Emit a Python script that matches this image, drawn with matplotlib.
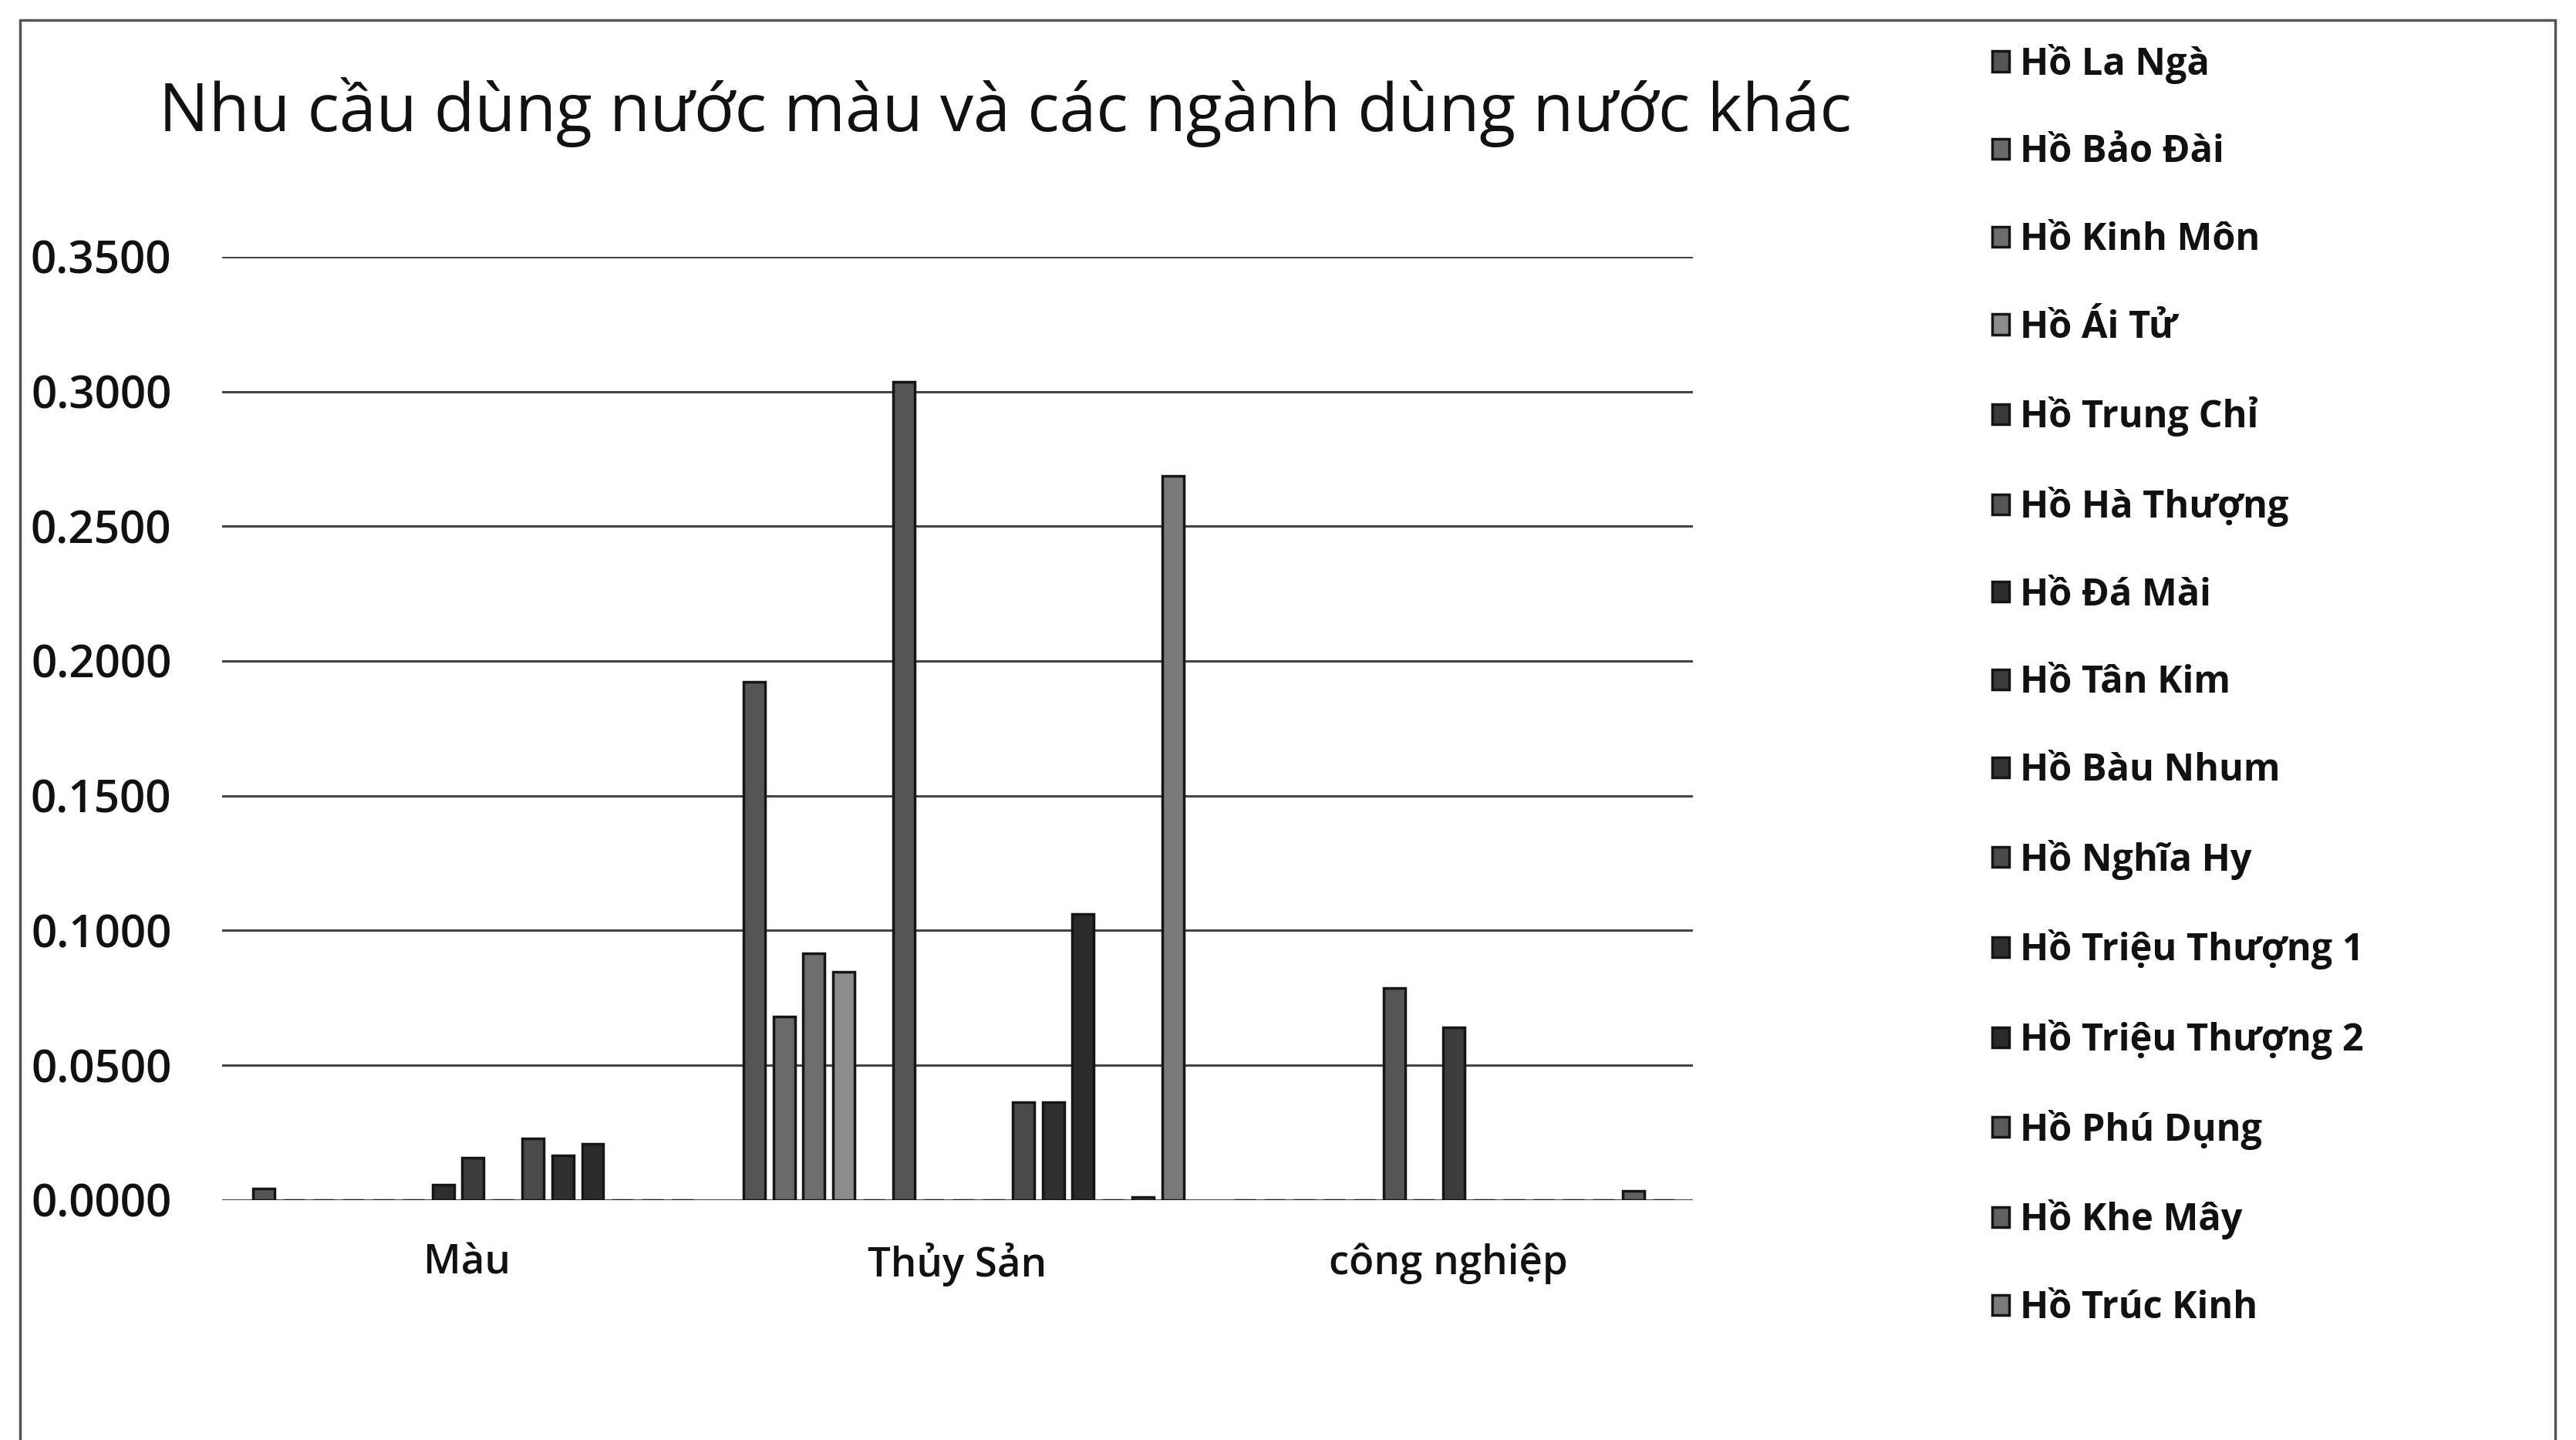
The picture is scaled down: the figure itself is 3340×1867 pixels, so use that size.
import numpy as np
import matplotlib
matplotlib.use("Agg")
from matplotlib import pyplot as plt
from matplotlib.patches import Rectangle

plt.rcParams['font.family'] = ['Open Sans', 'DejaVu Sans']

categories = ['Màu', 'Thủy Sản', 'công nghiệp']

lakes = ['Hồ La Ngà', 'Hồ Bảo Đài', 'Hồ Kinh Môn', 'Hồ Ái Tử', 'Hồ Trung Chỉ',
         'Hồ Hà Thượng', 'Hồ Đá Mài', 'Hồ Tân Kim', 'Hồ Bàu Nhum', 'Hồ Nghĩa Hy',
         'Hồ Triệu Thượng 1', 'Hồ Triệu Thượng 2', 'Hồ Phú Dụng', 'Hồ Khe Mây',
         'Hồ Trúc Kinh']

# values per lake: [Màu, Thủy Sản, công nghiệp]
la_nga = [0.0041, 0.1923, 0.0]
bao_dai = [0.0, 0.0680, 0.0]
kinh_mon = [0.0, 0.0915, 0.0]
ai_tu = [0.0, 0.0846, 0.0]
trung_chi = [0.0, 0.0, 0.0]
ha_thuong = [0.0, 0.3035, 0.0786]
da_mai = [0.0056, 0.0, 0.0]
tan_kim = [0.0156, 0.0, 0.0640]
bau_nhum = [0.0, 0.0, 0.0]
nghia_hy = [0.0228, 0.0364, 0.0]
trieu_thuong_1 = [0.0165, 0.0364, 0.0]
trieu_thuong_2 = [0.0209, 0.1060, 0.0]
phu_dung = [0.0, 0.0, 0.0]
khe_may = [0.0, 0.0010, 0.0033]
truc_kinh = [0.0, 0.2688, 0.0]

values = [la_nga, bao_dai, kinh_mon, ai_tu, trung_chi, ha_thuong, da_mai, tan_kim,
          bau_nhum, nghia_hy, trieu_thuong_1, trieu_thuong_2, phu_dung, khe_may,
          truc_kinh]

yticks = [0.0, 0.05, 0.10, 0.15, 0.20, 0.25, 0.30, 0.35]

# scanned greys
colors = ['#555555', '#6a6a6a', '#6e6e6e', '#8c8c8c', '#3a3a3a', '#555555',
          '#2e2e2e', '#3c3c3c', '#333333', '#4a4a4a', '#2f2f2f', '#2a2a2a',
          '#5a5a5a', '#606060', '#7a7a7a']

fig = plt.figure(figsize=(33.41, 18.67), dpi=100)
ax = fig.add_axes([0.0861, 0.1667, 0.571, 0.655])

x = np.arange(len(categories))
slot = 1 / 16.4
handles = []
for i, (name, vals) in enumerate(zip(lakes, values)):
    b = ax.bar(x + (i - 6.8) * slot, vals, width=slot * 0.72, color=colors[i],
               edgecolor='#151515', linewidth=2.5, label=name, zorder=3)
    handles.append(b)

ax.set_xlim(-0.5, 2.5)
ax.set_ylim(0, 0.35)
ax.set_yticks(yticks)
ax.set_yticklabels(['{:.4f}'.format(v) for v in yticks])
ax.set_xticks(x)
ax.set_xticklabels(categories)
ax.tick_params(axis='y', length=0, pad=47, labelsize=42, labelcolor='#111111')
ax.tick_params(axis='x', length=0, pad=40, labelsize=38, labelcolor='#111111')
for lab in ax.get_yticklabels():
    lab.set_fontweight('semibold')
for lab in ax.get_xticklabels():
    lab.set_fontweight('semibold')
ax.grid(axis='y', color='#444444', linewidth=2.2, zorder=0)
for s in ax.spines.values():
    s.set_visible(False)

fig.text(0.39, 0.922, 'Nhu cầu dùng nước màu và các ngành dùng nước khác',
         ha='center', va='center', fontsize=62, color='#111111')

leg = fig.legend(handles=handles, loc='upper left', bbox_to_anchor=(0.760, 0.993),
                 frameon=False, fontsize=35, handlelength=0.45, handleheight=0.45,
                 handletextpad=0.3, labelspacing=1.33)
for t in leg.get_texts():
    t.set_fontweight('bold')
    t.set_color('#111111')

fig.add_artist(Rectangle((12 / 1568, -0.05), (1555 - 12) / 1568, 1.036,
                         transform=fig.transFigure, fill=False,
                         edgecolor='#555555', linewidth=2.5))

fig.savefig('out.png', dpi=100)
